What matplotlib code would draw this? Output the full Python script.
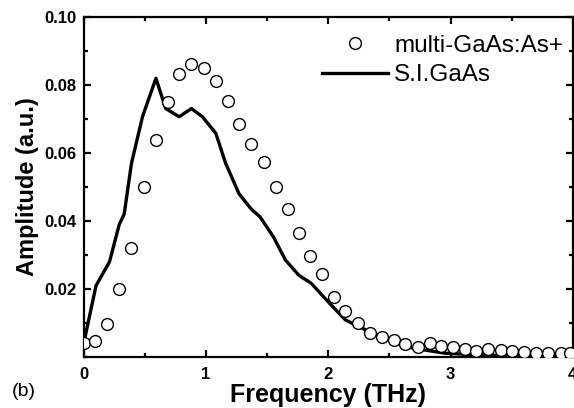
import matplotlib
matplotlib.use("Agg")
import matplotlib.pyplot as plt
from matplotlib.ticker import MultipleLocator

plt.rcParams["font.family"] = ["Liberation Sans", "DejaVu Sans"]

# multi-GaAs:As+ (open circles)
freq_multi = [0.0, 0.095, 0.19, 0.29, 0.39, 0.49, 0.59, 0.69, 0.78, 0.88, 0.98,
              1.08, 1.18, 1.27, 1.37, 1.47, 1.57, 1.67, 1.76, 1.85, 1.95, 2.05,
              2.14, 2.24, 2.34, 2.44, 2.54, 2.63, 2.73, 2.83, 2.92, 3.02, 3.12,
              3.21, 3.31, 3.41, 3.5, 3.6, 3.7, 3.8, 3.9, 3.98]
amp_multi = [0.0042, 0.0047, 0.0097, 0.020, 0.032, 0.0499, 0.0638, 0.0749,
             0.0832, 0.0861, 0.0849, 0.0813, 0.0752, 0.0685, 0.0626, 0.0573,
             0.0501, 0.0434, 0.0366, 0.0297, 0.0244, 0.0177, 0.0136, 0.0099,
             0.0070, 0.0060, 0.0050, 0.0038, 0.0028, 0.0040, 0.0032, 0.0028,
             0.0025, 0.0019, 0.0023, 0.0020, 0.0018, 0.0016, 0.0013, 0.0011,
             0.0013, 0.0011]

# S.I.GaAs (solid line)
freq_si = [0.0, 0.02, 0.1, 0.21, 0.29, 0.33, 0.39, 0.48, 0.59, 0.67, 0.78,
           0.88, 0.97, 1.08, 1.16, 1.27, 1.37, 1.44, 1.55, 1.65, 1.76, 1.86,
           2.01, 2.14, 2.31, 2.5, 2.69, 2.96, 3.23, 3.5, 3.8, 4.0]
amp_si = [0.004, 0.0075, 0.021, 0.028, 0.039, 0.042, 0.057, 0.0707, 0.082,
          0.0731, 0.0707, 0.0731, 0.0707, 0.0658, 0.057, 0.048, 0.0435,
          0.0413, 0.0354, 0.0285, 0.024, 0.0217, 0.0158, 0.0109, 0.0079,
          0.005, 0.0026, 0.0011, 0.0006, 0.0004, 0.0004, 0.0003]

fig = plt.figure(figsize=(5.74, 4.08), dpi=100)
ax = fig.add_axes([0.146, 0.125, 0.852, 0.833])

ax.plot(freq_multi, amp_multi, linestyle="none", marker="o", markersize=8.5,
        markerfacecolor="white", markeredgecolor="black", markeredgewidth=1.0,
        label="multi-GaAs:As+", zorder=3)
ax.plot(freq_si, amp_si, color="black", linewidth=2.4, label="S.I.GaAs", zorder=2)

ax.set_xlim(0, 4)
ax.set_ylim(0, 0.10)
ax.xaxis.set_minor_locator(MultipleLocator(0.5))
ax.yaxis.set_minor_locator(MultipleLocator(0.01))
ax.set_yticks([0.02, 0.04, 0.06, 0.08, 0.10])
ax.set_yticklabels(["0.02", "0.04", "0.06", "0.08", "0.10"])
ax.set_xticks([0, 1, 2, 3, 4])
ax.set_xticklabels(["0", "1", "2", "3", "4"])

ax.tick_params(which="both", direction="in", top=True, right=True, width=1.6)
ax.tick_params(which="major", length=5, labelsize=12)
ax.tick_params(axis="x", which="major", pad=7)
ax.tick_params(axis="y", which="major", pad=5)
ax.tick_params(which="minor", length=3)
for lab in ax.get_xticklabels() + ax.get_yticklabels():
    lab.set_fontweight("bold")
for s in ax.spines.values():
    s.set_linewidth(1.6)

ax.set_xlabel("Frequency (THz)", fontsize=18, fontweight="bold", labelpad=1)
ax.set_ylabel("Amplitude (a.u.)", fontsize=17, fontweight="bold", labelpad=4)

ax.legend(loc="upper right", bbox_to_anchor=(0.99, 0.962), frameon=False,
          fontsize=17.5, handlelength=2.7, handletextpad=0.25,
          borderaxespad=0.0, labelspacing=0.3, borderpad=0.2)

fig.text(0.02, 0.03, "(b)", fontsize=14)

fig.savefig("out.png", dpi=100)
